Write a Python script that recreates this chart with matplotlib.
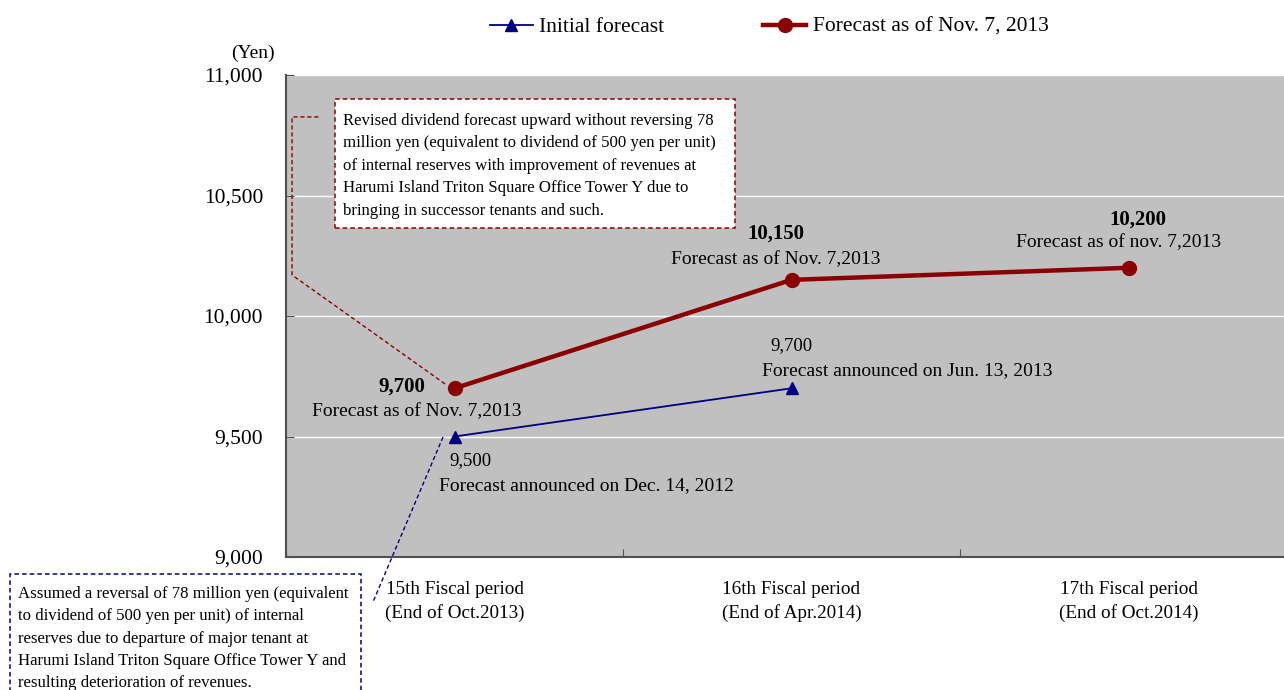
import numpy as np
import matplotlib
matplotlib.use("Agg")
import matplotlib.pyplot as plt
from matplotlib.patches import Rectangle

# ----------------------------------------------------
# Data
# ----------------------------------------------------

periods = [
    "15th Fiscal period\n(End of Oct.2013)",
    "16th Fiscal period\n(End of Apr.2014)",
    "17th Fiscal period\n(End of Oct.2014)",
]

initial_values = [9500, 9700]
revised_values = [9700, 10150, 10200]

initial_notes = [
    "Forecast announced on Dec. 14, 2012",
    "Forecast announced on Jun. 13, 2013",
]
revised_notes = [
    "Forecast as of Nov. 7,2013",
    "Forecast as of Nov. 7,2013",
    "Forecast as of nov. 7,2013",
]

yticks = [9000, 9500, 10000, 10500, 11000]

note_revised = ("Revised dividend forecast upward without reversing 78\n"
                "million yen (equivalent to dividend of 500 yen per unit)\n"
                "of internal reserves with improvement of revenues at\n"
                "Harumi Island Triton Square Office Tower Y due to\n"
                "bringing in successor tenants and such.")
note_initial = ("Assumed a reversal of 78 million yen (equivalent\n"
                "to dividend of 500 yen per unit) of internal\n"
                "reserves due to departure of major tenant at\n"
                "Harumi Island Triton Square Office Tower Y and\n"
                "resulting deterioration of revenues.")

RED = "#8B0000"
BLUE = "#000080"

plt.rcParams["font.family"] = ["Liberation Serif", "DejaVu Serif"]

# ----------------------------------------------------
# Figure
# ----------------------------------------------------

fig = plt.figure(figsize=(12.84, 6.90), dpi=100)
ax = fig.add_axes([286 / 1284, 133 / 690, 1011 / 1284, 482 / 690])

ax.set_facecolor("#C0C0C0")
ax.set_xlim(0, 3)
ax.set_ylim(9000, 11000)

x_init = np.arange(len(initial_values)) + 0.5
x_rev = np.arange(len(revised_values)) + 0.5

ax.set_yticks(yticks)
ax.set_yticklabels([f"{v:,}" for v in yticks], fontsize=15.5)
ax.yaxis.grid(True, color="white", linewidth=1)
ax.set_axisbelow(True)

ax.set_xticks([0, 1, 2, 3])
ax.set_xticklabels([])
ax.set_xticks(x_rev, minor=True)
ax.set_xticklabels(periods, minor=True, fontsize=13.8, linespacing=1.5)
ax.tick_params(axis="x", which="major", direction="in", length=6, color="#505050")
ax.tick_params(axis="x", which="minor", length=0, pad=17)
ax.tick_params(axis="y", direction="in", length=6, color="#505050", pad=16.5)

for s in ["top", "right"]:
    ax.spines[s].set_visible(False)
for s in ["left", "bottom"]:
    ax.spines[s].set_color("#505050")
    ax.spines[s].set_linewidth(1.5)

# Lines
ax.plot(x_init, initial_values, color=BLUE, linewidth=1.3, marker="^",
        markersize=9, label="Initial forecast", zorder=4)
ax.plot(x_rev, revised_values, color=RED, linewidth=3.2, marker="o",
        markersize=10, label="Forecast as of Nov. 7, 2013", zorder=5)

# ----------------------------------------------------
# Point labels
# ----------------------------------------------------

rev_num_off = [(-21, 1.5), (-11.5, 33), (7, 35)]
rev_txt_off = [(-27, -17), (-11.5, 14.5), (-7, 18)]
rev_num_ha = ["right", "center", "center"]
for i, v in enumerate(revised_values):
    ax.annotate(f"{v:,}", (x_rev[i], v), xytext=rev_num_off[i],
                textcoords="offset points", ha=rev_num_ha[i], va="center",
                fontsize=15, fontweight="bold")
    ax.annotate(revised_notes[i], (x_rev[i], v), xytext=rev_txt_off[i],
                textcoords="offset points", ha="center", va="center",
                fontsize=14)

init_num_off = [(-4, -17), (0, 31)]
init_txt_off = [(-11, -35), (83.5, 13)]
init_num_ha = ["left", "center"]
init_txt_ha = ["left", "center"]
for i, v in enumerate(initial_values):
    ax.annotate(f"{v:,}", (x_init[i], v), xytext=init_num_off[i],
                textcoords="offset points", ha=init_num_ha[i], va="center",
                fontsize=13.5)
    ax.annotate(initial_notes[i], (x_init[i], v), xytext=init_txt_off[i],
                textcoords="offset points", ha=init_txt_ha[i], va="center",
                fontsize=14)

# ----------------------------------------------------
# Callout boxes
# ----------------------------------------------------

# Revised forecast note (inside plot)
ax.add_patch(Rectangle((0.145, 10365), 1.187, 535, facecolor="white",
                       edgecolor=RED, linestyle=(0, (3, 2)), linewidth=1.1,
                       zorder=6))
ax.text(0.17, 10842, note_revised, ha="left", va="top", fontsize=12.1,
        linespacing=1.53, zorder=7)
ax.plot([0.472, 0.018, 0.018, 0.10], [9718, 10170, 10826, 10826],
        color=RED, linestyle=(0, (3, 2)), linewidth=1.0, zorder=3)

# Initial forecast note (below plot)
ax.add_patch(Rectangle((-0.819, 8380), 1.042, 549, facecolor="white",
                       edgecolor=BLUE, linestyle=(0, (3, 2)), linewidth=1.1,
                       zorder=6, clip_on=False))
ax.text(-0.795, 8880, note_initial, ha="left", va="top", fontsize=12.1,
        linespacing=1.53, zorder=7, clip_on=False)
ax.plot([0.466, 0.258], [9498, 8813], color=BLUE, linestyle=(0, (3, 2)),
        linewidth=1.0, clip_on=False, zorder=3)

# Unit label
fig.text(253 / 1284, 1 - 53 / 690, "(Yen)", ha="center", va="center",
         fontsize=14)

# Legend
fig.legend(loc="center", bbox_to_anchor=(0.599, 1 - 27 / 690), ncol=2,
           frameon=False, fontsize=15.5, handlelength=2.0, columnspacing=4.6,
           handletextpad=0.3)

fig.savefig("out.png", dpi=100)
